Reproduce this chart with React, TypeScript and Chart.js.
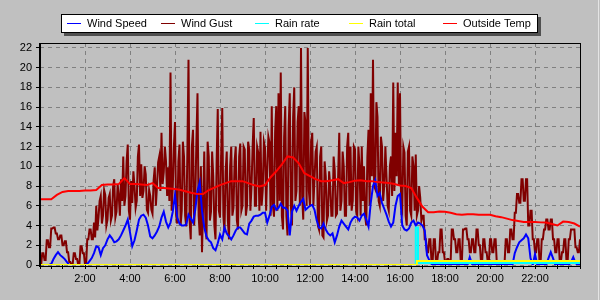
import React, { useEffect, useRef } from 'react';
import { Chart, registerables } from 'chart.js';

Chart.register(...registerables);

// ---- data ----
const SPEED_STEP_HOURS = 0.1;
const GUST_STEP_HOURS = 0.05;
const TEMP_STEP_HOURS = 0.25;

const windSpeed = [
  0, 0, 0, 0, 0, 0.1, 0.6, 1.0, 1.3, 1.0,
  0.8, 0.6, 0.3, 0, 0, 0, 0, 0, 0, 0,
  0, 0.1, 0.4, 0.7, 1.2, 1.9, 1.8, 1.0, 1.7, 2.0,
  2.6, 3.0, 2.7, 2.3, 2.4, 2.6, 3.0, 3.5, 4.0, 4.6,
  3.3, 1.9, 2.5, 3.5, 4.6, 5.0, 5.1, 4.8, 4.0, 2.9,
  2.7, 3.0, 3.4, 3.9, 4.8, 5.4, 4.4, 3.8, 4.3, 5.4,
  7.1, 4.8, 4.2, 4.0, 4.0, 4.1, 5.1, 4.7, 4.3, 5.6,
  7.5, 8.4, 5.5, 3.8, 2.9, 2.5, 2.3, 1.7, 1.5, 2.2,
  3.1, 2.6, 3.8, 3.2, 2.9, 2.6, 3.0, 3.5, 3.8, 3.8,
  3.5, 3.2, 3.1, 4.2, 4.5, 4.9, 5.0, 5.0, 5.1, 5.3,
  5.3, 4.3, 5.0, 5.9, 6.1, 5.6, 5.8, 6.2, 5.8, 5.8,
  5.5, 3.0, 5.4, 6.0, 5.5, 6.0, 6.4, 6.7, 5.6, 5.8,
  6.0, 6.1, 5.6, 4.5, 3.8, 3.7, 4.2, 3.6, 3.2, 3.0,
  3.2, 2.3, 3.0, 3.9, 4.5, 4.2, 3.9, 3.6, 4.3, 4.7,
  4.9, 4.8, 4.5, 5.0, 5.2, 4.6, 3.9, 6.3, 8.0, 8.6,
  7.0, 7.3, 6.3, 5.7, 5.1, 4.4, 3.9, 4.3, 6.0, 7.0,
  7.2, 4.0, 3.6, 3.5, 3.7, 4.3, 4.5, 4.0, 4.3, 4.2,
  4.0, 3.5, 1.0, 0.5, 0.1, 0, 0, 0, 0, 0,
  0, 0, 0, 0, 0, 0, 0, 0, 0, 0,
  0, 0.8, 0.1, 0, 0, 0, 0, 0, 0, 0,
  0, 0, 0, 0, 0, 0, 0, 0, 0, 0,
  0, 1.2, 1.8, 2.3, 2.5, 2.7, 3.1, 2.7, 0.7, 0,
  1.1, 0, 0, 0, 0, 0, 0.7, 1.3, 0.7, 0,
  0, 0, 0, 0, 0, 0, 0.3, 0.8, 0.2, 0,
  0,
];

const windGust = [
  0, 0, 1.2, 1.2, 0.5, 0.5, 2.5, 2.5, 1.8, 1.8, 3.7, 3.7, 3.8, 3.8, 3.2, 3.2, 2.6, 2.6, 3.0, 3.0,
  2.0, 2.0, 2.4, 2.4, 1.3, 1.3, 0.3, 0.3, 0, 0, 1.2, 1.2, 0.6, 0.6, 0, 0, 1.9, 1.9, 1.2, 1.2,
  0, 0, 2.6, 2.6, 3.6, 3.6, 2.6, 2.6, 4.3, 2.8, 6.0, 3.5, 4.8, 6.5, 7.0, 4.2, 5.0, 7.6, 7.1, 4.0,
  4.6, 6.8, 7.2, 4.5, 5.0, 8.0, 8.7, 4.8, 5.4, 8.2, 7.0, 5.0, 8.7, 6.5, 11.0, 6.0, 7.0, 10.5, 12.2, 5.5,
  4.6, 8.5, 6.3, 9.5, 8.0, 5.8, 6.5, 11.0, 12.2, 7.0, 10.2, 6.8, 7.5, 10.0, 9.2, 5.6, 5.3, 7.6, 7.0, 5.6,
  5.2, 8.6, 9.9, 6.0, 8.0, 10.4, 11.0, 7.5, 13.4, 8.2, 9.4, 12.0, 10.5, 7.0, 9.9, 6.5, 19.5, 5.5, 7.8, 12.0,
  14.5, 5.0, 4.2, 10.5, 12.2, 4.0, 5.5, 12.5, 11.0, 5.0, 3.9, 11.5, 20.8, 4.5, 2.6, 12.0, 13.7, 4.0, 6.4, 12.5,
  17.4, 5.0, 3.0, 10.0, 1.3, 6.0, 11.5, 4.0, 2.6, 12.5, 11.0, 4.5, 5.4, 11.5, 9.0, 4.0, 2.6, 10.5, 15.8, 5.5,
  4.8, 11.0, 15.9, 5.0, 3.3, 9.5, 11.5, 4.5, 2.6, 10.0, 12.0, 5.0, 5.8, 10.5, 12.0, 4.5, 3.6, 11.0, 12.3, 5.5,
  6.0, 12.0, 11.7, 5.0, 6.0, 12.5, 11.7, 5.5, 7.9, 12.0, 14.9, 6.0, 6.0, 12.0, 11.4, 5.5, 13.5, 6.0, 7.6, 12.5,
  11.9, 5.5, 9.7, 13.0, 12.4, 5.0, 16.1, 6.0, 4.9, 13.5, 16.1, 5.5, 17.4, 6.5, 19.5, 5.0, 3.6, 13.0, 16.1, 5.0,
  3.0, 14.0, 17.4, 6.0, 4.0, 15.0, 18.0, 6.5, 7.5, 14.5, 16.1, 6.0, 22.0, 7.0, 4.6, 15.5, 14.4, 6.0, 22.0, 7.5,
  6.0, 12.5, 13.4, 6.0, 8.7, 11.5, 12.0, 4.0, 3.6, 11.0, 12.0, 3.0, 2.8, 10.5, 9.0, 4.5, 5.0, 9.5, 8.0, 5.0,
  5.0, 11.0, 9.6, 5.0, 5.2, 9.0, 13.4, 5.5, 6.5, 11.5, 10.0, 5.0, 5.0, 12.0, 13.4, 6.0, 12.0, 5.5, 6.5, 12.0,
  11.7, 5.5, 5.0, 12.0, 10.0, 5.0, 12.0, 6.5, 10.0, 5.0, 4.0, 11.0, 13.7, 6.0, 17.4, 9.0, 20.8, 8.0, 7.7, 16.5,
  15.0, 6.5, 6.0, 13.0, 12.0, 6.5, 8.0, 12.0, 9.0, 6.0, 5.5, 10.0, 11.0, 7.0, 18.5, 7.5, 13.4, 9.0, 18.5, 8.0,
  17.4, 6.0, 5.5, 12.0, 11.4, 5.0, 4.0, 11.5, 12.0, 5.5, 5.0, 11.0, 10.0, 5.5, 11.2, 5.0, 5.5, 8.0, 6.8, 4.5,
  5.0, 5.0, 2.6, 2.6, 1.3, 1.3, 2.6, 2.6, 0.3, 0.3, 2.6, 2.6, 0.3, 0.3, 1.3, 1.3, 3.6, 3.6, 1.3, 1.3,
  0.3, 0.3, 0.6, 0.6, 0.3, 0.3, 3.6, 3.6, 2.6, 2.6, 1.3, 1.3, 2.6, 2.6, 0.3, 0.3, 3.6, 3.6, 3.7, 3.7,
  2.6, 2.6, 1.3, 1.3, 2.6, 2.6, 1.3, 1.3, 3.6, 3.6, 2.0, 2.0, 0.3, 0.3, 2.6, 2.6, 1.3, 1.3, 0.3, 0.3,
  2.6, 2.6, 1.3, 1.3, 2.6, 2.6, 0.3, 0.3, 0, 0, 0, 0, 0.3, 0.3, 2.6, 2.6, 1.3, 1.3, 3.6, 3.6,
  2.6, 2.6, 5.3, 5.3, 7.2, 7.2, 6.3, 6.3, 8.7, 8.7, 6.5, 6.5, 8.7, 8.7, 4.0, 4.0, 5.5, 5.5, 2.6, 2.6,
  1.3, 1.3, 2.6, 2.6, 0.3, 0.3, 2.6, 2.6, 3.6, 3.6, 4.6, 4.6, 3.6, 3.6, 4.6, 4.6, 2.6, 2.6, 1.3, 1.3,
  2.6, 2.6, 0.3, 0.3, 1.3, 1.3, 2.6, 2.6, 0.3, 0.3, 2.6, 2.6, 3.6, 3.6, 3.6, 3.6, 1.8, 1.8, 1.3, 1.3,
  2.6,
];

const outsideTemp = [
  6.67, 6.67, 6.67, 7.1,
  7.4, 7.5, 7.5, 7.5,
  7.55, 7.55, 7.6, 8.1,
  8.15, 8.15, 8.2, 8.8,
  8.2, 8.2, 8.15, 8.1,
  8.3, 7.8, 7.8, 7.75,
  7.7, 7.6, 7.45, 7.3,
  7.2, 7.2, 7.6, 7.85,
  8.1, 8.3, 8.5, 8.5,
  8.5, 8.3, 8.1, 7.95,
  8.1, 8.9, 9.5, 10.2,
  11.0, 10.9, 10.3, 9.3,
  9.0, 8.7, 8.5, 8.5,
  8.6, 8.7, 8.3, 8.4,
  8.55, 8.6, 8.5, 8.5,
  8.4, 8.35, 8.3, 8.2,
  8.05, 8.0, 7.8, 6.8,
  5.9, 5.35, 5.35, 5.43,
  5.4, 5.3, 5.15, 5.1,
  5.15, 5.15, 5.1, 5.1,
  5.1, 4.95, 4.85, 4.7,
  4.55, 4.45, 4.36, 4.35,
  4.35, 4.32, 4.3, 4.15,
  4.0, 4.4, 4.35, 4.2,
  3.9,
];

const rainRateTimes = [0, 16.7, 16.8, 24];
const rainRateValues = [0, 3.8, 0.2, 0.2];
const rainTotalTimes = [0, 16.75, 24];
const rainTotalValues = [0, 0.4, 0.4];

const xLabelHours = [2, 4, 6, 8, 10, 12, 14, 16, 18, 20, 22];
const xLabels = ['2:00', '4:00', '6:00', '8:00', '10:00', '12:00', '14:00', '16:00', '18:00', '20:00', '22:00'];
const X_MINOR_STEP = 0.5;
const X_MIN = 0;
const X_MAX = 24;
const Y_MIN = 0;
const Y_MAX = 22.5;
const Y_STEP = 2;

const seriesNames = ['Wind Speed', 'Wind Gust', 'Rain rate', 'Rain total', 'Outside Temp'];
const seriesColors = ['#0000ff', '#800000', '#00ffff', '#ffff00', '#ff0000'];

const FONT = "'Liberation Sans', Arial, sans-serif";

function regular(values: number[], step: number) {
  return values.map((v, i) => ({ x: i * step, y: v }));
}
function paired(times: number[], values: number[]) {
  return times.map((t, i) => ({ x: t, y: values[i] }));
}

const backgroundPlugin = {
  id: 'panelBackground',
  beforeDraw(chart: any) {
    const ctx = chart.ctx as CanvasRenderingContext2D;
    ctx.save();
    ctx.fillStyle = '#c0c0c0';
    ctx.fillRect(0, 0, 600, 300);
    ctx.fillStyle = '#e4e4e4';
    ctx.fillRect(598, 0, 1, 300);
    ctx.restore();
  },
};

const legendPlugin = {
  id: 'boxLegend',
  afterDraw(chart: any) {
    const ctx = chart.ctx as CanvasRenderingContext2D;
    const bx = 61, by = 14, bw = 477, bh = 19;
    ctx.save();
    ctx.fillStyle = '#505050';
    ctx.fillRect(bx + 3, by + 3, bw, bh);
    ctx.fillStyle = '#ffffff';
    ctx.fillRect(bx, by, bw, bh);
    ctx.strokeStyle = '#000000';
    ctx.lineWidth = 1;
    ctx.strokeRect(bx + 0.5, by + 0.5, bw - 1, bh - 1);
    ctx.font = `11px ${FONT}`;
    ctx.textBaseline = 'middle';
    ctx.textAlign = 'left';
    for (let i = 0; i < seriesNames.length; i++) {
      const lx = 67 + 94 * i;
      ctx.fillStyle = seriesColors[i];
      ctx.fillRect(lx, 23, 14, 1);
      ctx.fillStyle = '#000000';
      ctx.fillText(seriesNames[i], lx + 20, 24);
    }
    ctx.restore();
  },
};

const framePlugin = {
  id: 'plotFrame',
  afterDatasetsDraw(chart: any) {
    const { left, top, right, bottom } = chart.chartArea;
    const ctx = chart.ctx as CanvasRenderingContext2D;
    ctx.save();
    ctx.fillStyle = '#000000';
    ctx.fillRect(left, top, right - left + 1, 1);
    ctx.fillRect(right, top, 1, bottom - top + 2);
    ctx.fillRect(left - 1, bottom + 1, right - left + 2, 1);
    ctx.fillRect(left - 1, top, 2, bottom - top + 2);
    ctx.restore();
  },
};

export default function App() {
  const ref = useRef<HTMLCanvasElement>(null);

  useEffect(() => {
    if (!ref.current) return;
    const lineBase = { pointRadius: 0, borderWidth: 2, tension: 0, fill: false };
    const chart = new Chart(ref.current, {
      type: 'line',
      data: {
        datasets: [
          { ...lineBase, label: seriesNames[0], data: regular(windSpeed, SPEED_STEP_HOURS), borderColor: seriesColors[0], order: 3 },
          { ...lineBase, label: seriesNames[1], data: regular(windGust, GUST_STEP_HOURS), borderColor: seriesColors[1], borderWidth: 2, borderJoinStyle: 'miter', order: 4 },
          { ...lineBase, label: seriesNames[2], data: paired(rainRateTimes, rainRateValues), borderColor: seriesColors[2], stepped: true, order: 1 },
          { ...lineBase, label: seriesNames[3], data: paired(rainTotalTimes, rainTotalValues), borderColor: seriesColors[3], stepped: true, order: 0 },
          { ...lineBase, label: seriesNames[4], data: regular(outsideTemp, TEMP_STEP_HOURS), borderColor: seriesColors[4], order: 2 },
        ] as any,
      },
      options: {
        responsive: false,
        animation: false,
        events: [],
        layout: { padding: { top: 43, right: 20, left: 0, bottom: 0 } },
        plugins: { legend: { display: false }, tooltip: { enabled: false }, title: { display: false } },
        scales: {
          x: {
            type: 'linear',
            min: X_MIN,
            max: X_MAX,
            afterFit: (s: any) => { s.height = 35; },
            afterBuildTicks: (s: any) => {
              const t = [];
              for (let v = X_MIN; v <= X_MAX + 1e-9; v += X_MINOR_STEP) t.push({ value: Math.round(v * 10) / 10 });
              s.ticks = t;
            },
            ticks: {
              autoSkip: false,
              maxRotation: 0,
              minRotation: 0,
              padding: 3,
              color: '#000000',
              font: { family: FONT, size: 11 },
              callback: (v: any) => {
                const idx = xLabelHours.indexOf(Number(v));
                return idx >= 0 ? xLabels[idx] : '';
              },
            },
            grid: {
              color: (c: any) => (c.tick && xLabelHours.indexOf(c.tick.value) >= 0 ? '#808080' : 'rgba(0,0,0,0)'),
              lineWidth: 1,
              tickColor: '#000000',
              tickWidth: 1,
              tickLength: 4,
            },
            border: { display: false, dash: [4, 4] },
          },
          y: {
            type: 'linear',
            min: Y_MIN,
            max: Y_MAX,
            afterFit: (s: any) => { s.width = 40; },
            ticks: {
              stepSize: Y_STEP,
              includeBounds: false,
              padding: 4,
              color: '#000000',
              font: { family: FONT, size: 11 },
            } as any,
            grid: {
              color: '#808080',
              lineWidth: 1,
              tickColor: '#000000',
              tickWidth: 1,
              tickLength: 4,
            },
            border: { display: false, dash: [4, 4] },
          },
        },
      } as any,
      plugins: [backgroundPlugin, legendPlugin, framePlugin],
    });
    return () => chart.destroy();
  }, []);

  return (
    <div style={{ position: 'fixed', left: 0, top: 0, width: 600, height: 300, background: '#c0c0c0' }}>
      <canvas ref={ref} width={600} height={300} style={{ display: 'block', width: 600, height: 300 }} />
    </div>
  );
}
